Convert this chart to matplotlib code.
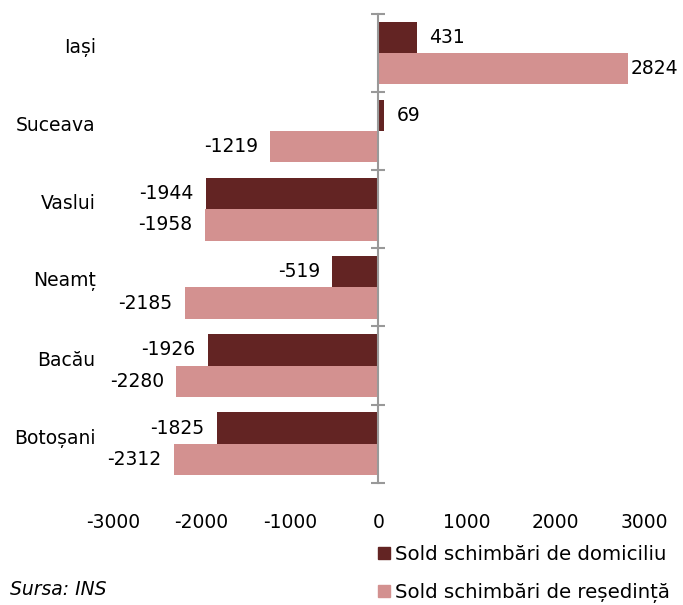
import numpy as np
import matplotlib.pyplot as plt
from matplotlib.patches import Patch
from matplotlib.transforms import blended_transform_factory

# chart data, top to bottom.
counties = ["Iași", "Suceava", "Vaslui", "Neamț", "Bacău", "Botoșani"]
domiciliu = [431, 69, -1944, -519, -1926, -1825]
resedinta = [2824, -1219, -1958, -2185, -2280, -2312]
series_names = ["Sold schimbări de domiciliu", "Sold schimbări de reședință"]
x_ticks = [-3000, -2000, -1000, 0, 1000, 2000, 3000]
source_note = "Sursa: INS"

dark_col = "#632423"
pink_col = "#D39190"
fs = 13.5

plt.rcParams["font.family"] = ["DejaVu Sans"]

fig = plt.figure(figsize=(6.83, 6.05), dpi=100)
ax = fig.add_axes([0.165, 0.202, 0.778, 0.775])

# categories go downwards, so center of category i sits at y=i.
y = np.arange(len(counties))
h = 0.4
ax.barh(y - h / 2, domiciliu, height=h, color=dark_col)
ax.barh(y + h / 2, resedinta, height=h, color=pink_col)
ax.set_ylim(len(counties) - 0.5, -0.5)
ax.set_xlim(-3000, 3000)

# value labels outside the bar ends.
for vals, off in [(domiciliu, -h / 2), (resedinta, h / 2)]:
    for i, v in enumerate(vals):
        pad = 1.5 if abs(v) > 2500 else 9
        ax.annotate(str(v), (v, i + off), xytext=(pad if v >= 0 else -pad, 0),
                    textcoords="offset points", ha="left" if v >= 0 else "right",
                    va="center", fontsize=fs)

# vertical axis at zero with crossing ticks between categories.
for s in ["top", "right", "bottom"]:
    ax.spines[s].set_visible(False)
ax.spines["left"].set_position(("data", 0))
ax.spines["left"].set_color("#999999")
ax.spines["left"].set_linewidth(1.5)
ax.set_yticks(np.arange(len(counties) + 1) - 0.5)
ax.set_yticklabels([])
ax.tick_params(axis="y", direction="inout", length=10, width=1.5, color="#999999")

# category labels left of plot area.
tr = blended_transform_factory(ax.transAxes, ax.transData)
for i, name in enumerate(counties):
    ax.text(-0.032, i - 0.07, name, transform=tr, ha="right", va="center", fontsize=fs)

ax.set_xticks(x_ticks)
ax.set_xticklabels([str(t) for t in x_ticks])
ax.tick_params(axis="x", length=0, pad=22, labelsize=fs)

# legend and source.
handles = [Patch(color=dark_col), Patch(color=pink_col)]
fig.legend(handles, series_names, loc="upper left", bbox_to_anchor=(0.553, 0.099),
           frameon=False, fontsize=14.2, handlelength=0.6, handleheight=0.6,
           handletextpad=0.3, labelspacing=0.95, borderpad=0, borderaxespad=0)
fig.text(0.014, 0.025, source_note, fontsize=fs, style="italic", va="center")

fig.savefig("out.png", dpi=100)
